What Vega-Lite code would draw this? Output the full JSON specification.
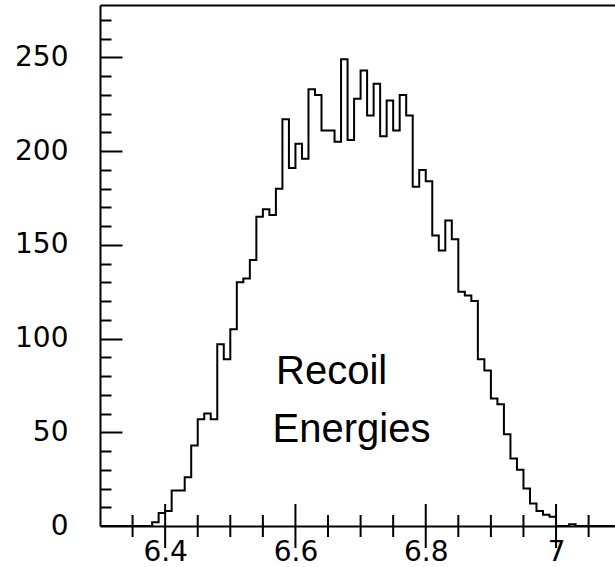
{
  "$schema": "https://vega.github.io/schema/vega-lite/v6.json",
  "width": 515,
  "height": 521,
  "autosize": {"type": "none"},
  "padding": {"left": 100, "top": 5, "right": 0, "bottom": 41},
  "background": "white",
  "config": {
    "view": {"stroke": null},
    "axis": {
      "grid": false,
      "title": null,
      "domainColor": "black",
      "domainWidth": 2,
      "labelColor": "black",
      "labelFont": "DejaVu Sans",
      "labelFontSize": 28,
      "labelFontWeight": "normal"
    }
  },
  "datasets": {
    "hist": [
      {"e": 6.30, "n": 0}, {"e": 6.31, "n": 0}, {"e": 6.32, "n": 0}, {"e": 6.33, "n": 0},
      {"e": 6.34, "n": 0}, {"e": 6.35, "n": 0}, {"e": 6.36, "n": 0}, {"e": 6.37, "n": 0},
      {"e": 6.38, "n": 2}, {"e": 6.39, "n": 7}, {"e": 6.40, "n": 8}, {"e": 6.41, "n": 19},
      {"e": 6.42, "n": 19}, {"e": 6.43, "n": 26}, {"e": 6.44, "n": 43}, {"e": 6.45, "n": 57},
      {"e": 6.46, "n": 60}, {"e": 6.47, "n": 57}, {"e": 6.48, "n": 97}, {"e": 6.49, "n": 89},
      {"e": 6.50, "n": 105}, {"e": 6.51, "n": 130}, {"e": 6.52, "n": 132}, {"e": 6.53, "n": 142},
      {"e": 6.54, "n": 165}, {"e": 6.55, "n": 169}, {"e": 6.56, "n": 166}, {"e": 6.57, "n": 180},
      {"e": 6.58, "n": 217}, {"e": 6.59, "n": 191}, {"e": 6.60, "n": 204}, {"e": 6.61, "n": 196},
      {"e": 6.62, "n": 233}, {"e": 6.63, "n": 230}, {"e": 6.64, "n": 211}, {"e": 6.65, "n": 211},
      {"e": 6.66, "n": 205}, {"e": 6.67, "n": 249}, {"e": 6.68, "n": 206}, {"e": 6.69, "n": 228},
      {"e": 6.70, "n": 243}, {"e": 6.71, "n": 219}, {"e": 6.72, "n": 236}, {"e": 6.73, "n": 208},
      {"e": 6.74, "n": 227}, {"e": 6.75, "n": 211}, {"e": 6.76, "n": 230}, {"e": 6.77, "n": 219},
      {"e": 6.78, "n": 181}, {"e": 6.79, "n": 190}, {"e": 6.80, "n": 184}, {"e": 6.81, "n": 155},
      {"e": 6.82, "n": 147}, {"e": 6.83, "n": 163}, {"e": 6.84, "n": 153}, {"e": 6.85, "n": 125},
      {"e": 6.86, "n": 123}, {"e": 6.87, "n": 120}, {"e": 6.88, "n": 89}, {"e": 6.89, "n": 83},
      {"e": 6.90, "n": 68}, {"e": 6.91, "n": 65}, {"e": 6.92, "n": 49}, {"e": 6.93, "n": 36},
      {"e": 6.94, "n": 30}, {"e": 6.95, "n": 20}, {"e": 6.96, "n": 12}, {"e": 6.97, "n": 8},
      {"e": 6.98, "n": 6}, {"e": 6.99, "n": 5}, {"e": 7.00, "n": 0}, {"e": 7.01, "n": 0},
      {"e": 7.02, "n": 1}, {"e": 7.03, "n": 0}, {"e": 7.04, "n": 0}, {"e": 7.05, "n": 0},
      {"e": 7.06, "n": 0}, {"e": 7.07, "n": 0}, {"e": 7.08, "n": 0}, {"e": 7.09, "n": 0}
    ],
    "majorTicks": [{"v": 6.4}, {"v": 6.6}, {"v": 6.8}, {"v": 7.0}],
    "minorTicks": [{"v": 6.35}, {"v": 6.45}, {"v": 6.5}, {"v": 6.55}, {"v": 6.65}, {"v": 6.7}, {"v": 6.75}, {"v": 6.85}, {"v": 6.9}, {"v": 6.95}, {"v": 7.05}]
  },
  "resolve": {"axis": {"x": "independent", "y": "independent"}},
  "layer": [
    {
      "data": {"name": "hist"},
      "mark": {"type": "line", "interpolate": "step-after", "color": "black", "strokeWidth": 2, "clip": true},
      "encoding": {
        "x": {
          "field": "e", "type": "quantitative",
          "scale": {"domain": [6.3, 7.0905], "nice": false, "zero": false},
          "axis": {"orient": "bottom", "values": [6.4, 6.6, 6.8, 7.0], "format": ".1~f", "ticks": false, "labelPadding": 12, "labelFlush": false}
        },
        "y": {
          "field": "n", "type": "quantitative",
          "scale": {"domain": [0, 278], "nice": false},
          "axis": {"orient": "left", "values": [0, 50, 100, 150, 200, 250], "ticks": false, "labelPadding": 32, "labelFlush": false}
        }
      }
    },
    {
      "data": {"name": "hist"},
      "mark": {"type": "point", "opacity": 0},
      "encoding": {
        "x": {"field": "e", "type": "quantitative", "axis": null},
        "y": {
          "field": "n", "type": "quantitative",
          "axis": {"orient": "left", "values": [50, 100, 150, 200, 250], "ticks": false, "labels": false, "domain": false, "grid": true, "gridColor": "black", "gridOpacity": 1, "gridWidth": 2, "gridDash": [22, 2000]}
        }
      }
    },
    {
      "data": {"name": "hist"},
      "mark": {"type": "point", "opacity": 0},
      "encoding": {
        "x": {"field": "e", "type": "quantitative", "axis": null},
        "y": {
          "field": "n", "type": "quantitative",
          "axis": {"orient": "left", "values": [10, 20, 30, 40, 60, 70, 80, 90, 110, 120, 130, 140, 160, 170, 180, 190, 210, 220, 230, 240, 260, 270], "ticks": false, "labels": false, "domain": false, "grid": true, "gridColor": "black", "gridOpacity": 1, "gridWidth": 2, "gridDash": [11, 2000]}
        }
      }
    },
    {
      "data": {"name": "majorTicks"},
      "mark": {"type": "tick", "orient": "vertical", "color": "black", "thickness": 2, "size": 44, "opacity": 1},
      "encoding": {
        "x": {"field": "v", "type": "quantitative", "axis": null},
        "y": {"datum": 0, "type": "quantitative", "axis": null}
      }
    },
    {
      "data": {"name": "minorTicks"},
      "mark": {"type": "tick", "orient": "vertical", "color": "black", "thickness": 2, "size": 22, "opacity": 1},
      "encoding": {
        "x": {"field": "v", "type": "quantitative", "axis": null},
        "y": {"datum": 0, "type": "quantitative", "axis": null}
      }
    },
    {
      "data": {"name": "hist"},
      "mark": {"type": "point", "opacity": 0},
      "encoding": {
        "x": {
          "field": "e", "type": "quantitative",
          "axis": {"orient": "top", "ticks": false, "labels": false, "domain": true}
        }
      }
    },
    {
      "data": {"values": [{"label": "Recoil"}]},
      "mark": {"type": "text", "font": "Liberation Sans", "fontSize": 40, "align": "center", "baseline": "alphabetic", "color": "black"},
      "encoding": {
        "x": {"datum": 6.6556, "type": "quantitative", "axis": null},
        "y": {"datum": 76, "type": "quantitative", "axis": null},
        "text": {"field": "label"}
      }
    },
    {
      "data": {"values": [{"label": "Energies"}]},
      "mark": {"type": "text", "font": "Liberation Sans", "fontSize": 40, "align": "center", "baseline": "alphabetic", "color": "black"},
      "encoding": {
        "x": {"datum": 6.686, "type": "quantitative", "axis": null},
        "y": {"datum": 45, "type": "quantitative", "axis": null},
        "text": {"field": "label"}
      }
    }
  ]
}
